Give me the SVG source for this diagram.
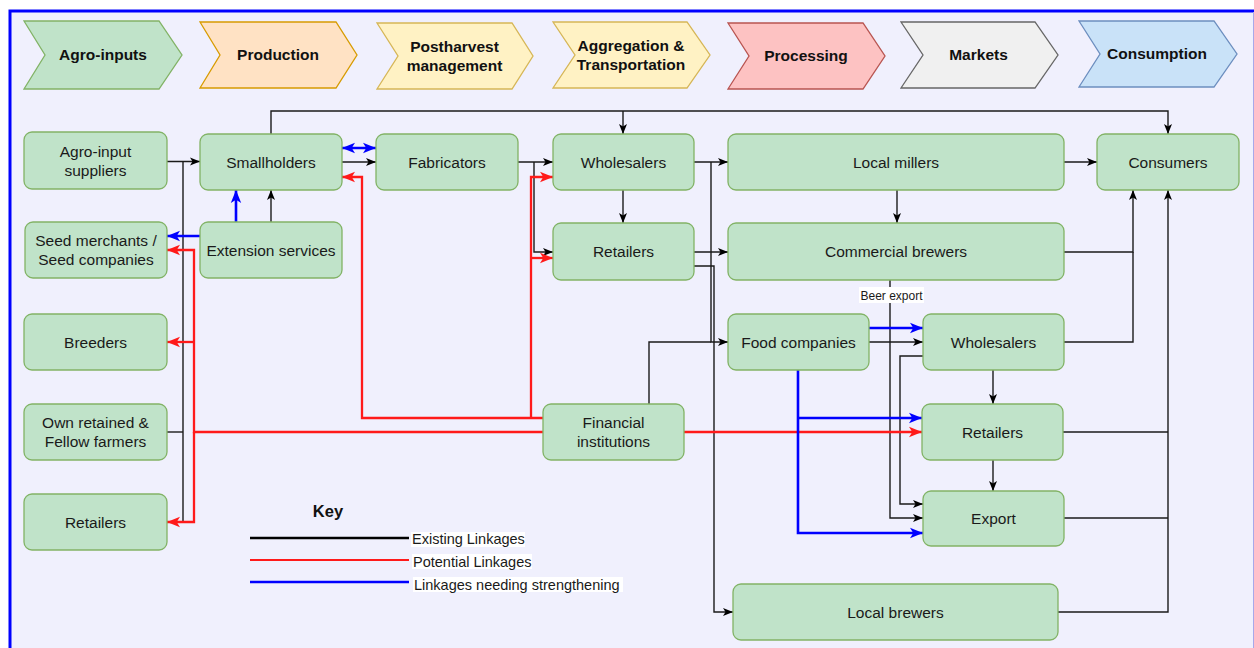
<svg xmlns="http://www.w3.org/2000/svg" width="1254" height="648" viewBox="0 0 1254 648">
<style>
.nd rect{fill:#c0e3c9;stroke:#82b366;stroke-width:1.3}
.nd text,.lt{font-family:"Liberation Sans",Arial,sans-serif;font-size:15.5px;fill:#1a1a1a;text-anchor:middle}
.hd text{font-family:"Liberation Sans",Arial,sans-serif;font-size:15.5px;font-weight:bold;fill:#111;text-anchor:middle}
.k{fill:none;stroke:#1a1a1a;stroke-width:1.4}
.r{fill:none;stroke:#ff1a1a;stroke-width:2.3}
.b{fill:none;stroke:#0000ff;stroke-width:2.6}
.ka{marker-end:url(#ak)}
.ra{marker-end:url(#ar)}
.ba{marker-end:url(#ab)}
.leg{font-family:"Liberation Sans",Arial,sans-serif;font-size:14.5px;fill:#1a1a1a}
</style>
<defs>
<marker id="ak" viewBox="0 0 10 10" refX="10" refY="5" markerWidth="10" markerHeight="10" orient="auto" markerUnits="userSpaceOnUse"><path d="M0,1 L10,5 L0,9 L2.5,5 Z" fill="#000"/></marker>
<marker id="ar" viewBox="0 0 10 10" refX="10" refY="5" markerWidth="13" markerHeight="13" orient="auto" markerUnits="userSpaceOnUse"><path d="M0,1 L10,5 L0,9 L2.5,5 Z" fill="#ff1a1a"/></marker>
<marker id="ab" viewBox="0 0 10 10" refX="10" refY="5" markerWidth="13" markerHeight="13" orient="auto-start-reverse" markerUnits="userSpaceOnUse"><path d="M0,1 L10,5 L0,9 L2.5,5 Z" fill="#0000ff"/></marker>
</defs>
<rect x="0" y="0" width="1254" height="648" fill="#ffffff"/>
<rect x="10" y="11" width="1246" height="700" fill="#f0f0fd" stroke="#0000ff" stroke-width="3"/>
<path d="M1253.5,12 V648" stroke="#a8a8ea" stroke-width="1"/>

<g id="header" class="hd">
<g id="h-agro"><polygon points="24,21 159,21 182,55 159,89 24,89 45,55" fill="#c0e3c9" stroke="#82b366" stroke-width="1.3"/><text x="103" y="60">Agro-inputs</text></g>
<g id="h-prod"><polygon points="200,22 336,22 357,55 336,88 200,88 220,55" fill="#ffe2c4" stroke="#d79b00" stroke-width="1.3"/><text x="278" y="60">Production</text></g>
<g id="h-post"><polygon points="377,23 512,23 533,56 512,89 377,89 398,56" fill="#fff2c4" stroke="#d6b656" stroke-width="1.3"/><text x="454.5" y="51.5">Postharvest</text><text x="454.5" y="70.5">management</text></g>
<g id="h-aggr"><polygon points="553,22 687,22 710,55 687,88 553,88 575,55" fill="#fff2c4" stroke="#d6b656" stroke-width="1.3"/><text x="631" y="50.5">Aggregation &amp;</text><text x="631" y="69.5">Transportation</text></g>
<g id="h-proc"><polygon points="728,23 863,23 885,56 863,89 728,89 749,56" fill="#fdc2c2" stroke="#b85450" stroke-width="1.3"/><text x="806" y="61">Processing</text></g>
<g id="h-mark"><polygon points="901,22 1035,22 1058,55 1035,88 901,88 923,55" fill="#f0f0f0" stroke="#666666" stroke-width="1.3"/><text x="978.5" y="60">Markets</text></g>
<g id="h-cons"><polygon points="1079,21 1214,21 1237,54 1214,87 1079,87 1100,54" fill="#c9e2f8" stroke="#6c8ebf" stroke-width="1.3"/><text x="1157" y="59">Consumption</text></g>
</g>

<g id="connectors">
<!-- existing (black) -->
<path class="k ka" d="M167,161.5 H200"/>
<path class="k" d="M167,522 H183 V161.5"/>
<path class="k" d="M167,432 H183"/>
<path class="k ka" d="M342,162 H376"/>
<path class="k ka" d="M271,222 V190"/>
<path class="k ka" d="M271,134 V111 H1168 V134"/>
<path class="k ka" d="M623,111 V134"/>
<path class="k ka" d="M518,162 H553"/>
<path class="k ka" d="M534,162 V252 H553"/>
<path class="k ka" d="M694,162 H728"/>
<path class="k ka" d="M711,162 V342 H728"/>
<path class="k" d="M649,404 V342 H711"/>
<path class="k ka" d="M623,190 V223"/>
<path class="k ka" d="M694,252 H728"/>
<path class="k ka" d="M694,266 H714 V612 H733"/>
<path class="k ka" d="M1064,162 H1097"/>
<path class="k ka" d="M897,190 V223"/>
<path class="k ka" d="M1064,252 H1133 V190"/>
<path class="k" d="M1064,342 H1133 V252"/>
<path class="k ka" d="M1058,612 H1168 V190"/>
<path class="k" d="M1063,432 H1168"/>
<path class="k" d="M1064,518 H1168"/>
<path class="k ka" d="M869,342 H923"/>
<path class="k ka" d="M890,280 V518 H923"/>
<path class="k ka" d="M923,356 H900 V504 H923"/>
<path class="k ka" d="M993,370 V404"/>
<path class="k ka" d="M993,460 V491"/>
<!-- potential (red) -->
<path class="r ra" d="M543,418 H362 V177 H342"/>
<path class="r ra" d="M531,418 V177 H553"/>
<path class="r ra" d="M531,258 H553"/>
<path class="r ra" d="M543,432 H194 V250 H167"/>
<path class="r ra" d="M194,342 H167"/>
<path class="r ra" d="M194,432 V522 H167"/>
<path class="r ra" d="M684,432 H922"/>
<!-- strengthening (blue) -->
<path class="b ba" d="M342,148 H376" marker-start="url(#ab)"/>
<path class="b ba" d="M236,222 V190"/>
<path class="b ba" d="M200,236 H167"/>
<path class="b ba" d="M869,328 H923"/>
<path class="b ba" d="M798,370 V533 H923"/>
<path class="b ba" d="M798,418 H922"/>
<!-- label -->
<rect x="859" y="287" width="65" height="16" fill="#ffffff"/>
<text x="891.5" y="299.5" font-family="Liberation Sans, Arial, sans-serif" font-size="12" fill="#1a1a1a" text-anchor="middle">Beer export</text>
</g>

<g id="n-agro-suppliers" class="nd"><rect x="24" y="132" width="143" height="57" rx="8"/><text x="95.5" y="156.5">Agro-input</text><text x="95.5" y="175.5">suppliers</text></g>
<g id="n-seed" class="nd"><rect x="25" y="222" width="142" height="56" rx="8"/><text x="96" y="246">Seed merchants /</text><text x="96" y="265">Seed companies</text></g>
<g id="n-breeders" class="nd"><rect x="24" y="314" width="143" height="56" rx="8"/><text x="95.5" y="347.5">Breeders</text></g>
<g id="n-own" class="nd"><rect x="24" y="404" width="143" height="56" rx="8"/><text x="95.5" y="428">Own retained &amp;</text><text x="95.5" y="447">Fellow farmers</text></g>
<g id="n-retailers-left" class="nd"><rect x="24" y="494" width="143" height="56" rx="8"/><text x="95.5" y="527.5">Retailers</text></g>
<g id="n-smallholders" class="nd"><rect x="200" y="134" width="142" height="56" rx="8"/><text x="271" y="167.5">Smallholders</text></g>
<g id="n-extension" class="nd"><rect x="200" y="222" width="142" height="56" rx="8"/><text x="271" y="255.5">Extension services</text></g>
<g id="n-fabricators" class="nd"><rect x="376" y="134" width="142" height="56" rx="8"/><text x="447" y="167.5">Fabricators</text></g>
<g id="n-wholesalers-1" class="nd"><rect x="553" y="134" width="141" height="56" rx="8"/><text x="623.5" y="167.5">Wholesalers</text></g>
<g id="n-retailers-1" class="nd"><rect x="553" y="223" width="141" height="57" rx="8"/><text x="623.5" y="257">Retailers</text></g>
<g id="n-millers" class="nd"><rect x="728" y="134" width="336" height="56" rx="8"/><text x="896" y="167.5">Local millers</text></g>
<g id="n-consumers" class="nd"><rect x="1097" y="134" width="142" height="56" rx="8"/><text x="1168" y="167.5">Consumers</text></g>
<g id="n-commercial" class="nd"><rect x="728" y="223" width="336" height="57" rx="8"/><text x="896" y="257">Commercial brewers</text></g>
<g id="n-food" class="nd"><rect x="728" y="314" width="141" height="56" rx="8"/><text x="798.5" y="347.5">Food companies</text></g>
<g id="n-wholesalers-2" class="nd"><rect x="923" y="314" width="141" height="56" rx="8"/><text x="993.5" y="347.5">Wholesalers</text></g>
<g id="n-financial" class="nd"><rect x="543" y="404" width="141" height="56" rx="8"/><text x="613.5" y="428">Financial</text><text x="613.5" y="447">institutions</text></g>
<g id="n-retailers-2" class="nd"><rect x="922" y="404" width="141" height="56" rx="8"/><text x="992.5" y="437.5">Retailers</text></g>
<g id="n-export" class="nd"><rect x="923" y="491" width="141" height="55" rx="8"/><text x="993.5" y="524">Export</text></g>
<g id="n-local-brewers" class="nd"><rect x="733" y="584" width="325" height="56" rx="8"/><text x="895.5" y="617.5">Local brewers</text></g>

<g id="key">
<text x="328" y="517" font-family="Liberation Sans, Arial, sans-serif" font-size="16.5" font-weight="bold" fill="#111" text-anchor="middle">Key</text>
<path d="M250,538 H409" stroke="#000" stroke-width="2.5"/>
<path d="M250,560 H409" stroke="#ff1a1a" stroke-width="2"/>
<path d="M250,582 H409" stroke="#0000ff" stroke-width="2.5"/>
<rect x="411" y="532" width="114" height="15" fill="#ffffff"/>
<rect x="412" y="554" width="120" height="15" fill="#ffffff"/>
<rect x="413" y="577" width="210" height="15" fill="#ffffff"/>
<text class="leg" x="412" y="544">Existing Linkages</text>
<text class="leg" x="413" y="566.5">Potential Linkages</text>
<text class="leg" x="414" y="589.5">Linkages needing strengthening</text>
</g>
</svg>
